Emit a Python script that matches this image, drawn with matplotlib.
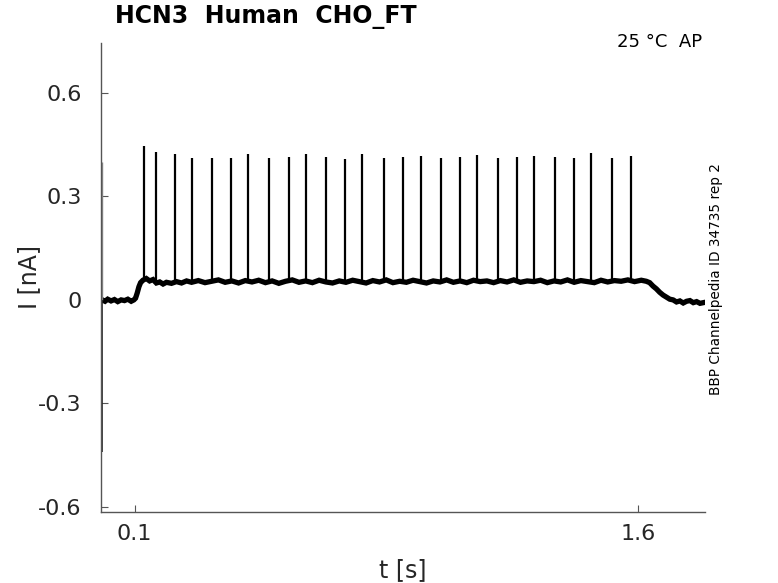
import matplotlib
matplotlib.use("Agg")
import matplotlib.pyplot as plt
import numpy as np

# baseline of the current trace (t [s], I [nA])
base_t = [0.004, 0.012, 0.02, 0.03, 0.04, 0.05, 0.06, 0.07, 0.08, 0.09, 0.098, 0.103,
          0.108, 0.113, 0.118, 0.125, 0.135, 0.145, 0.155, 0.165, 0.175, 0.185, 0.195,
          0.21, 0.225, 0.24, 0.255, 0.27, 0.29, 0.31, 0.33, 0.35, 0.37, 0.39, 0.41,
          0.43, 0.45, 0.47, 0.49, 0.51, 0.53, 0.55, 0.57, 0.59, 0.61, 0.63, 0.65,
          0.67, 0.69, 0.71, 0.73, 0.75, 0.77, 0.79, 0.81, 0.83, 0.85, 0.87, 0.89,
          0.91, 0.93, 0.95, 0.97, 0.99, 1.01, 1.03, 1.05, 1.07, 1.09, 1.11, 1.13,
          1.15, 1.17, 1.19, 1.21, 1.23, 1.25, 1.27, 1.29, 1.31, 1.33, 1.35, 1.37,
          1.39, 1.41, 1.43, 1.45, 1.47, 1.49, 1.51, 1.53, 1.55, 1.57, 1.59, 1.61,
          1.625, 1.635, 1.645, 1.655, 1.665, 1.675, 1.685, 1.695, 1.705, 1.715,
          1.725, 1.735, 1.745, 1.755, 1.765, 1.775, 1.785, 1.80]
base_i = [0.0, -0.004, 0.002, -0.003, 0.001, -0.005, 0.0, -0.002, 0.002, -0.004, 0.0, 0.005,
          0.02, 0.038, 0.05, 0.057, 0.062, 0.055, 0.059, 0.049, 0.052, 0.046, 0.051,
          0.048, 0.053, 0.049, 0.055, 0.051, 0.056, 0.05, 0.054, 0.058, 0.051, 0.055, 0.049,
          0.056, 0.052, 0.057, 0.05, 0.055, 0.048, 0.054, 0.058, 0.051, 0.055, 0.05, 0.057,
          0.052, 0.049, 0.055, 0.051, 0.057, 0.053, 0.049, 0.056, 0.052, 0.058, 0.05, 0.054,
          0.051, 0.057, 0.053, 0.049, 0.055, 0.052, 0.058, 0.051, 0.055, 0.05, 0.057, 0.053,
          0.055, 0.05, 0.056, 0.052, 0.058, 0.051, 0.055, 0.053, 0.057, 0.05, 0.055, 0.052,
          0.058, 0.051, 0.056, 0.053, 0.05, 0.057, 0.052, 0.056, 0.054, 0.058, 0.053, 0.057,
          0.054, 0.05, 0.04, 0.032, 0.022, 0.014, 0.008, 0.002, 0.0, -0.006,
          -0.003, -0.009, -0.004, -0.002, -0.008, -0.005, -0.01, -0.007]

# action potential currents: times and peak values
spike_t = [0.1284, 0.1642, 0.2200, 0.2707, 0.3313, 0.3881, 0.4388, 0.5015, 0.5603,
           0.6119, 0.6716, 0.7284, 0.7791, 0.8433, 0.9006, 0.9522, 1.0119, 1.0687,
           1.1194, 1.1821, 1.2397, 1.2916, 1.3522, 1.4090, 1.4597, 1.5224, 1.5800]
spike_i = [0.447, 0.430, 0.424, 0.411, 0.411, 0.411, 0.422, 0.411, 0.414,
           0.422, 0.415, 0.408, 0.424, 0.412, 0.415, 0.417, 0.412, 0.414,
           0.419, 0.411, 0.415, 0.417, 0.414, 0.412, 0.425, 0.411, 0.417]

# capacitive transient at the start
trans_t = 0.003
trans_up = 0.40
trans_down = -0.44

xticks = [0.1, 1.6]
yticks = [-0.6, -0.3, 0, 0.3, 0.6]

fig = plt.figure(figsize=(7.78, 5.83), dpi=100)
ax = fig.add_axes([0.1298, 0.1218, 0.7764, 0.8045])

ax.plot(base_t, base_i, color='black', lw=3.8, solid_joinstyle='miter')
spike_base = np.interp(spike_t, base_t, base_i)
ax.vlines(spike_t, spike_base, spike_i, color='black', lw=1.6)
ax.vlines(trans_t, 0, trans_up, color='#888888', lw=1.0)
ax.vlines(trans_t, trans_down, 0, color='#222222', lw=1.2)

ax.set_xlim(0, 1.8)
ax.set_ylim(-0.615, 0.745)
ax.set_xticks(xticks)
ax.set_xticklabels(['0.1', '1.6'])
ax.set_yticks(yticks)
ax.set_yticklabels(['-0.6', '-0.3', '0', '0.3', '0.6'])

for s in ['top', 'right']:
    ax.spines[s].set_visible(False)
for s in ['left', 'bottom']:
    ax.spines[s].set_color('#555555')
    ax.spines[s].set_linewidth(1.0)
ax.tick_params(direction='in', length=5, color='#555555', labelsize=16,
               labelcolor='#262626')
ax.tick_params(axis='y', pad=14)
ax.tick_params(axis='x', pad=9)

ax.set_xlabel('t [s]', fontsize=17, color='#262626', labelpad=10)
ax.set_ylabel('I [nA]', fontsize=17, color='#262626', labelpad=-2)

fig.text(0.148, 0.971, 'HCN3  Human  CHO_FT', fontsize=17, fontweight='bold',
         ha='left', va='center')
fig.text(617 / 778, 0.928, '25 °C  AP', fontsize=13, ha='left', va='center')
fig.text(0.920, 0.522, 'BBP Channelpedia ID 34735 rep 2', fontsize=9.8,
         rotation=90, ha='center', va='center')

fig.savefig('out.png', dpi=100)
